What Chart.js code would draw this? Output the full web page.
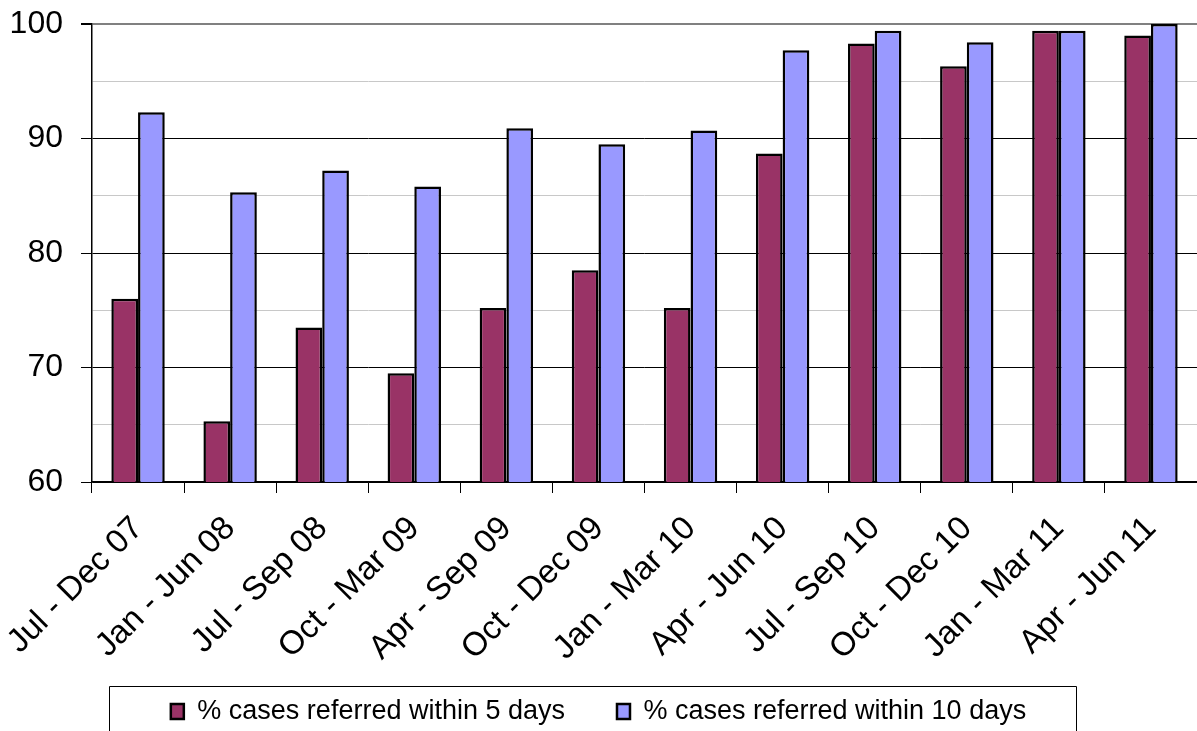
<!DOCTYPE html>
<html>
<head>
<meta charset="utf-8">
<title>Referral times</title>
<script src="https://cdn.jsdelivr.net/npm/chart.js@4/dist/chart.umd.min.js"></script>
<style>
  html, body { margin: 0; padding: 0; background: #ffffff; }
  #wrap { width: 1197px; height: 731px; position: relative; }
</style>
</head>
<body>
<div id="wrap"><canvas id="chart" width="1197" height="731"></canvas></div>
<script>
// Reporting periods
const categories = [
  'Jul - Dec 07', 'Jan - Jun 08', 'Jul - Sep 08', 'Oct - Mar 09',
  'Apr - Sep 09', 'Oct - Dec 09', 'Jan - Mar 10', 'Apr - Jun 10',
  'Jul - Sep 10', 'Oct - Dec 10', 'Jan - Mar 11', 'Apr - Jun 11'
];

// % of cases referred within 5 days
const within5Days = [76.0, 65.3, 73.5, 69.5, 75.2, 78.5, 75.2, 88.7, 98.3, 96.3, 99.4, 99.0];

// % of cases referred within 10 days
const within10Days = [92.3, 85.3, 87.2, 85.8, 90.9, 89.5, 90.7, 97.7, 99.4, 98.4, 99.4, 100.0];

const seriesNames = ['% cases referred within 5 days', '% cases referred within 10 days'];

// Value axis: 60 to 100, labelled every 10, minor grid every 5
const yMin = 60;
const yMax = 100;
const yStep = 5;
const yLabelStep = 10;

const FONT = '"Liberation Sans", Arial, sans-serif';

// Draws a frame around the legend items
const legendFrame = {
  id: 'legendFrame',
  afterDraw(chart) {
    const boxes = chart.legend && chart.legend.legendHitBoxes;
    if (!boxes || !boxes.length) return;
    const ctx = chart.ctx;
    const left = Math.min(...boxes.map(b => b.left)) - 62;
    const right = Math.max(...boxes.map(b => b.left + b.width)) + 50;
    const top = Math.min(...boxes.map(b => b.top)) - 12;
    ctx.save();
    ctx.strokeStyle = '#000000';
    ctx.lineWidth = 1;
    ctx.beginPath();
    ctx.moveTo(Math.round(left) + 0.5, chart.height + 2);
    ctx.lineTo(Math.round(left) + 0.5, Math.round(top) + 0.5);
    ctx.lineTo(Math.round(right) + 0.5, Math.round(top) + 0.5);
    ctx.lineTo(Math.round(right) + 0.5, chart.height + 2);
    ctx.stroke();
    ctx.restore();
  }
};

new Chart(document.getElementById('chart'), {
  type: 'bar',
  data: {
    labels: categories,
    datasets: [
      {
        label: seriesNames[0],
        data: within5Days,
        backgroundColor: '#993366',
        borderColor: '#000000',
        borderWidth: 2.5,
        categoryPercentage: 0.58,
        barPercentage: 1.0
      },
      {
        label: seriesNames[1],
        data: within10Days,
        backgroundColor: '#9999FF',
        borderColor: '#000000',
        borderWidth: 2.5,
        categoryPercentage: 0.58,
        barPercentage: 1.0
      }
    ]
  },
  plugins: [legendFrame],
  options: {
    responsive: false,
    animation: false,
    devicePixelRatio: 1,
    layout: { padding: { top: 24, right: 0, left: 0, bottom: -4 } },
    plugins: {
      title: { display: false },
      tooltip: { enabled: false },
      legend: {
        display: true,
        position: 'bottom',
        labels: {
          color: '#000000',
          font: { family: FONT, size: 27 },
          boxWidth: 13,
          boxHeight: 15,
          padding: 52
        }
      }
    },
    scales: {
      x: {
        offset: true,
        afterFit(scale) {
          // fixed axis band; rotated labels may run past it toward the legend
          scale.height = 164;
          scale.paddingLeft = 0;
          scale.paddingRight = 0;
          scale._computeLabelArea = () => undefined;
        },
        grid: {
          offset: true,
          drawOnChartArea: false,
          drawTicks: true,
          tickLength: 11,
          tickColor: '#000000',
          lineWidth: 1
        },
        border: { display: true, color: '#000000', width: 1.5 },
        ticks: {
          color: '#000000',
          font: { family: FONT, size: 33 },
          minRotation: 45,
          maxRotation: 45,
          autoSkip: false,
          padding: 16
        }
      },
      y: {
        min: yMin,
        max: yMax,
        afterFit(scale) {
          scale.width = 92;
          scale.paddingTop = 0;
          scale.paddingBottom = 0;
        },
        grid: {
          drawTicks: true,
          tickLength: 11,
          color(ctx) {
            const v = ctx.tick ? ctx.tick.value : null;
            if (v === yMax) return '#808080';
            if (v !== null && v % yLabelStep === 0) return '#000000';
            return '#c8c8c8';
          },
          lineWidth(ctx) {
            const v = ctx.tick ? ctx.tick.value : null;
            return v === yMax ? 2 : 1;
          },
          tickColor(ctx) {
            const v = ctx.tick ? ctx.tick.value : null;
            return (v !== null && v % yLabelStep === 0) ? '#000000' : 'rgba(0,0,0,0)';
          }
        },
        border: { display: true, color: '#000000', width: 1.5 },
        ticks: {
          stepSize: yStep,
          color: '#000000',
          font: { family: FONT, size: 32 },
          padding: 18,
          callback(value) { return value % yLabelStep === 0 ? String(value) : ''; }
        }
      }
    }
  }
});
</script>
</body>
</html>
